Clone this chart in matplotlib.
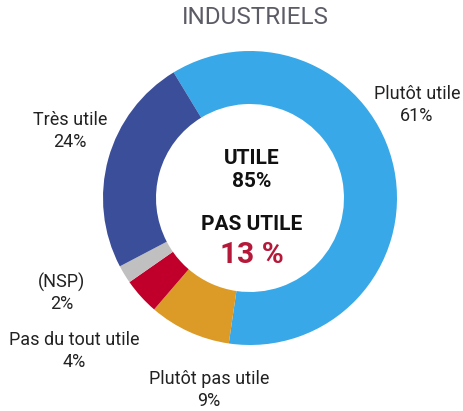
import matplotlib.pyplot as plt

# Données (ordre horaire à partir du haut-gauche)
categories = ["Plutôt utile", "Plutôt pas utile", "Pas du tout utile", "(NSP)", "Très utile"]
values = [61, 9, 4, 2, 24]
colors = ["#38a8e8", "#dc9a26", "#c0002a", "#c0c0c0", "#3b4e9a"]
label_pos = [(417, 306, "center"), (209, 21, "center"), (74, 60, "center"),
             (62, 118, "center"), (70, 280, "center")]

title = "INDUSTRIELS"
utile_total = 85
pas_utile_total = 13

plt.rcParams['font.family'] = ['Roboto', 'DejaVu Sans']

fig = plt.figure(figsize=(4.64, 4.11), dpi=100)
ax = fig.add_axes([0, 0, 1, 1])

ax.pie(values, colors=colors, startangle=121.3, counterclock=False,
       center=(250, 213), radius=147, frame=True,
       wedgeprops=dict(width=53, linewidth=0))
ax.set_xlim(0, 464)
ax.set_ylim(0, 411)
ax.set_aspect('equal')
ax.axis('off')

for cat, val, (x, y, ha) in zip(categories, values, label_pos):
    ax.text(x, y, f"{cat}\n{val}%", ha=ha, va="center", fontsize=13,
            color="#222222", linespacing=1.25)

ax.text(255, 394, title, ha="center", va="center", fontsize=17.5, color="#5c5c66")
ax.text(252, 241, f"UTILE\n{utile_total}%", ha="center", va="center",
        fontsize=15, fontweight="bold", color="#111111", linespacing=1.3)
ax.text(252, 187, "PAS UTILE", ha="center", va="center",
        fontsize=15, fontweight="bold", color="#111111")
ax.text(252, 156, f"{pas_utile_total} %", ha="center", va="center",
        fontsize=21.5, fontweight="bold", color="#b5193a")

fig.savefig("out.png", dpi=100)
